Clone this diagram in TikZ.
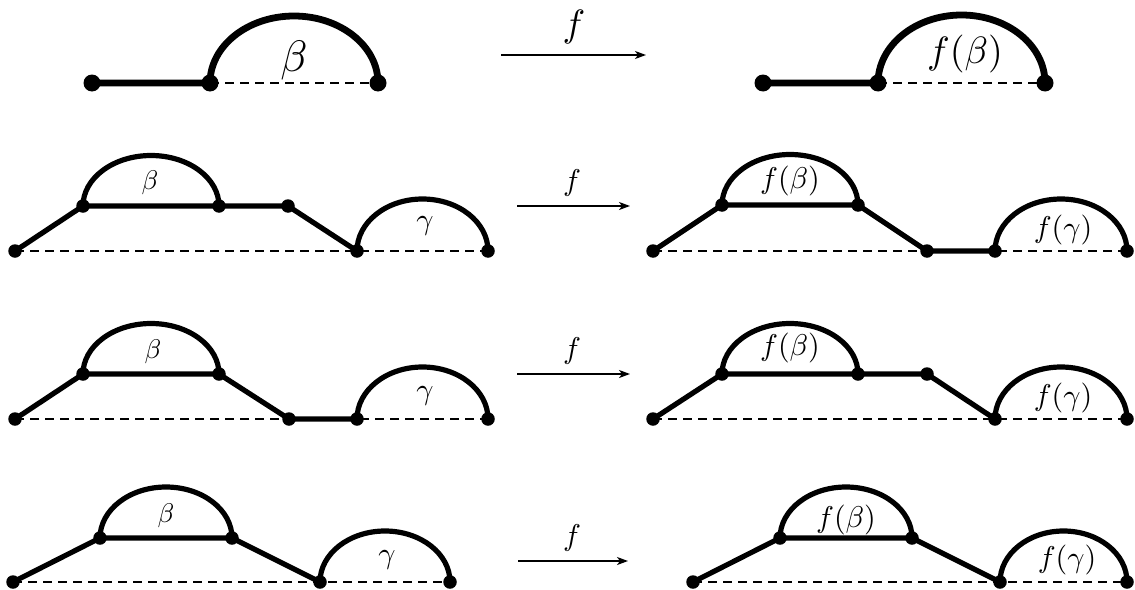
\documentclass[tikz,border=0pt]{standalone}
\usetikzlibrary{arrows.meta}
\pgfdeclarelayer{background}
\pgfsetlayers{background,main}
\begin{document}
\begin{tikzpicture}[x=1pt,y=1pt,yscale=-1,
  bdot/.style={circle,fill=black,inner sep=0pt,minimum size=17pt},
  sdot/.style={circle,fill=black,inner sep=0pt,minimum size=13.5pt},
  bthk/.style={line width=6.8pt,line join=round},
  thk/.style={line width=5.2pt,line join=round},
  dsh/.style={dash pattern=on 9pt off 6pt,line width=2.6pt},
  arr/.style={-{Stealth[length=11pt,width=8pt,inset=3pt]},line width=1.6pt},
  lblA/.style={inner sep=0pt,scale=4.4},
  lblB/.style={inner sep=0pt,scale=3.8},
  lblC/.style={inner sep=0pt,scale=2.7},
  lblD/.style={inner sep=0pt,scale=3}]
\useasboundingbox (0,0) rectangle (1135,589);

% ---------- Row 1 ----------
\node[bdot] (p1a) at (92,83) {};
\node[bdot] (p1b) at (210,83) {};
\node[bdot] (p1c) at (378,83) {};
\node[lblA] (t1b) at (294,60) {$\beta$};
\node[bdot] (q1a) at (763,83) {};
\node[bdot] (q1b) at (878,83) {};
\node[bdot] (q1c) at (1045,83) {};
\node[lblB] (u1b) at (965,54) {$f(\beta)$};
\coordinate (a1s) at (501,55);
\coordinate (a1e) at (646,55);
\node[lblB] (f1) at (574,27) {$f$};
\draw[arr] (a1s) -- (a1e);
\begin{pgfonlayer}{background}
\draw[dsh] (p1b.center) -- (p1c.center);
\draw[bthk] (p1a.center) -- (p1b.center) arc[start angle=180,end angle=360,x radius=84,y radius=67];
\draw[dsh] (q1b.center) -- (q1c.center);
\draw[bthk] (q1a.center) -- (q1b.center) arc[start angle=180,end angle=360,x radius=83.5,y radius=68];
\end{pgfonlayer}

% ---------- Row 2 ----------
\node[sdot] (p2a) at (15,251) {};
\node[sdot] (p2b) at (83,206) {};
\node[sdot] (p2c) at (219,206) {};
\node[sdot] (p2d) at (288,206) {};
\node[sdot] (p2e) at (357,251) {};
\node[sdot] (p2g) at (488,251) {};
\node[lblC] (t2b) at (150,183) {$\beta$};
\node[lblD] (t2g) at (425,226) {$\gamma$};
\node[sdot] (q2a) at (653,251) {};
\node[sdot] (q2b) at (722,205) {};
\node[sdot] (q2c) at (858,205) {};
\node[sdot] (q2d) at (927,251) {};
\node[sdot] (q2e) at (995,251) {};
\node[sdot] (q2g) at (1127,251) {};
\node[lblD] (u2b) at (790,181) {$f(\beta)$};
\node[lblD] (u2g) at (1063,230) {$f(\gamma)$};
\coordinate (a2s) at (517,206);
\coordinate (a2e) at (630,206);
\node[lblD] (f2) at (572,183) {$f$};
\draw[arr] (a2s) -- (a2e);
\begin{pgfonlayer}{background}
\draw[dsh] (p2a.center) -- (p2g.center);
\draw[thk] (p2a.center) -- (p2b.center) -- (p2c.center) -- (p2d.center) -- (p2e.center)
  arc[start angle=180,end angle=360,x radius=65.5,y radius=52];
\draw[thk] (p2b.center) arc[start angle=180,end angle=360,x radius=68,y radius=50.5];
\draw[dsh] (q2a.center) -- (q2g.center);
\draw[thk] (q2a.center) -- (q2b.center) -- (q2c.center) -- (q2d.center) -- (q2e.center)
  arc[start angle=180,end angle=360,x radius=66,y radius=52];
\draw[thk] (q2b.center) arc[start angle=180,end angle=360,x radius=68,y radius=50.5];
\end{pgfonlayer}

% ---------- Row 3 ----------
\node[sdot] (p3a) at (15,419) {};
\node[sdot] (p3b) at (83,374) {};
\node[sdot] (p3c) at (219,374) {};
\node[sdot] (p3d) at (289,419) {};
\node[sdot] (p3e) at (357,419) {};
\node[sdot] (p3g) at (488,419) {};
\node[lblC] (t3b) at (153,352) {$\beta$};
\node[lblD] (t3g) at (425,396) {$\gamma$};
\node[sdot] (q3a) at (653,419) {};
\node[sdot] (q3b) at (722,374) {};
\node[sdot] (q3c) at (858,374) {};
\node[sdot] (q3d) at (927,374) {};
\node[sdot] (q3e) at (995,419) {};
\node[sdot] (q3g) at (1127,419) {};
\node[lblD] (u3b) at (790,348) {$f(\beta)$};
\node[lblD] (u3g) at (1063,398) {$f(\gamma)$};
\coordinate (a3s) at (517,374);
\coordinate (a3e) at (630,374);
\node[lblD] (f3) at (572,351) {$f$};
\draw[arr] (a3s) -- (a3e);
\begin{pgfonlayer}{background}
\draw[dsh] (p3a.center) -- (p3g.center);
\draw[thk] (p3a.center) -- (p3b.center) -- (p3c.center) -- (p3d.center) -- (p3e.center)
  arc[start angle=180,end angle=360,x radius=65.5,y radius=52];
\draw[thk] (p3b.center) arc[start angle=180,end angle=360,x radius=68,y radius=50.5];
\draw[dsh] (q3a.center) -- (q3g.center);
\draw[thk] (q3a.center) -- (q3b.center) -- (q3c.center) -- (q3d.center) -- (q3e.center)
  arc[start angle=180,end angle=360,x radius=66,y radius=52];
\draw[thk] (q3b.center) arc[start angle=180,end angle=360,x radius=68,y radius=50.5];
\end{pgfonlayer}

% ---------- Row 4 ----------
\node[sdot] (p4a) at (13,582) {};
\node[sdot] (p4b) at (100,538) {};
\node[sdot] (p4c) at (232,538) {};
\node[sdot] (p4e) at (320,582) {};
\node[sdot] (p4g) at (450,582) {};
\node[lblC] (t4b) at (166,516) {$\beta$};
\node[lblD] (t4g) at (387,560) {$\gamma$};
\node[sdot] (q4a) at (693,582) {};
\node[sdot] (q4b) at (780,538) {};
\node[sdot] (q4c) at (912,538) {};
\node[sdot] (q4e) at (1000,582) {};
\node[sdot] (q4g) at (1127,582) {};
\node[lblD] (u4b) at (846,520) {$f(\beta)$};
\node[lblD] (u4g) at (1067,560) {$f(\gamma)$};
\coordinate (a4s) at (518,561);
\coordinate (a4e) at (628,561);
\node[lblD] (f4) at (572,538) {$f$};
\draw[arr] (a4s) -- (a4e);
\begin{pgfonlayer}{background}
\draw[dsh] (p4a.center) -- (p4g.center);
\draw[thk] (p4a.center) -- (p4b.center) -- (p4c.center) -- (p4e.center)
  arc[start angle=180,end angle=360,x radius=65,y radius=51];
\draw[thk] (p4b.center) arc[start angle=180,end angle=360,x radius=66,y radius=51];
\draw[dsh] (q4a.center) -- (q4g.center);
\draw[thk] (q4a.center) -- (q4b.center) -- (q4c.center) -- (q4e.center)
  arc[start angle=180,end angle=360,x radius=63.5,y radius=51];
\draw[thk] (q4b.center) arc[start angle=180,end angle=360,x radius=66,y radius=51];
\end{pgfonlayer}
\end{tikzpicture}
\end{document}
